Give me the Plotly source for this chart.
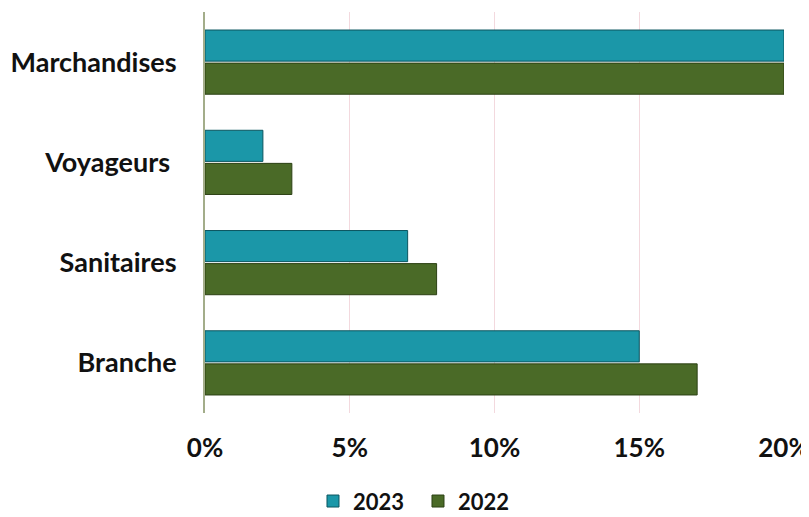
import plotly.graph_objects as go

categories = ["Marchandises", "Voyageurs ", "Sanitaires", "Branche"]
values_2023 = [0.20, 0.02, 0.07, 0.15]
values_2022 = [0.20, 0.03, 0.08, 0.17]
tick_vals = [0, 0.05, 0.10, 0.15, 0.20]
tick_text = ["0%", "5%", "10%", "15%", "20%"]

FONT = "Lato, 'Open Sans', sans-serif"

fig = go.Figure()
fig.add_trace(go.Bar(
    name="2023", y=categories, x=values_2023, orientation="h",
    marker=dict(color="#1b97a8", line=dict(color="#0c5660", width=1)),
))
fig.add_trace(go.Bar(
    name="2022", y=categories, x=values_2022, orientation="h",
    marker=dict(color="#4a6a27", line=dict(color="#2c4014", width=1)),
))

fig.update_layout(
    width=809, height=517,
    margin=dict(l=197, r=33, t=4, b=112),
    paper_bgcolor="white", plot_bgcolor="white",
    barmode="group", bargap=0.34, bargroupgap=0.06,
    font=dict(family=FONT, color="#111111"),
    showlegend=True,
    legend=dict(orientation="h", xref="container", yref="container",
                x=0.377, xanchor="left", y=0.046, yanchor="middle",
                font=dict(size=22, family=FONT, weight="bold"),
                entrywidth=60, entrywidthmode="pixels", traceorder="normal"),
    xaxis=dict(range=[0, 0.20], tickvals=tick_vals, ticktext=tick_text,
               showgrid=True, gridcolor="#f3d9de", gridwidth=1,
               zeroline=False, showline=False, ticks="", automargin=False,
               tickfont=dict(size=26, family=FONT, weight="bold"),
               ticklabelstandoff=17),
    yaxis=dict(autorange="reversed", showgrid=False, ticks="", automargin=False,
               showline=True, linecolor="#a3ad8a", linewidth=2,
               tickfont=dict(size=27, family=FONT, weight="bold"),
               ticklabelstandoff=21),
)

fig.write_html("out.html")
